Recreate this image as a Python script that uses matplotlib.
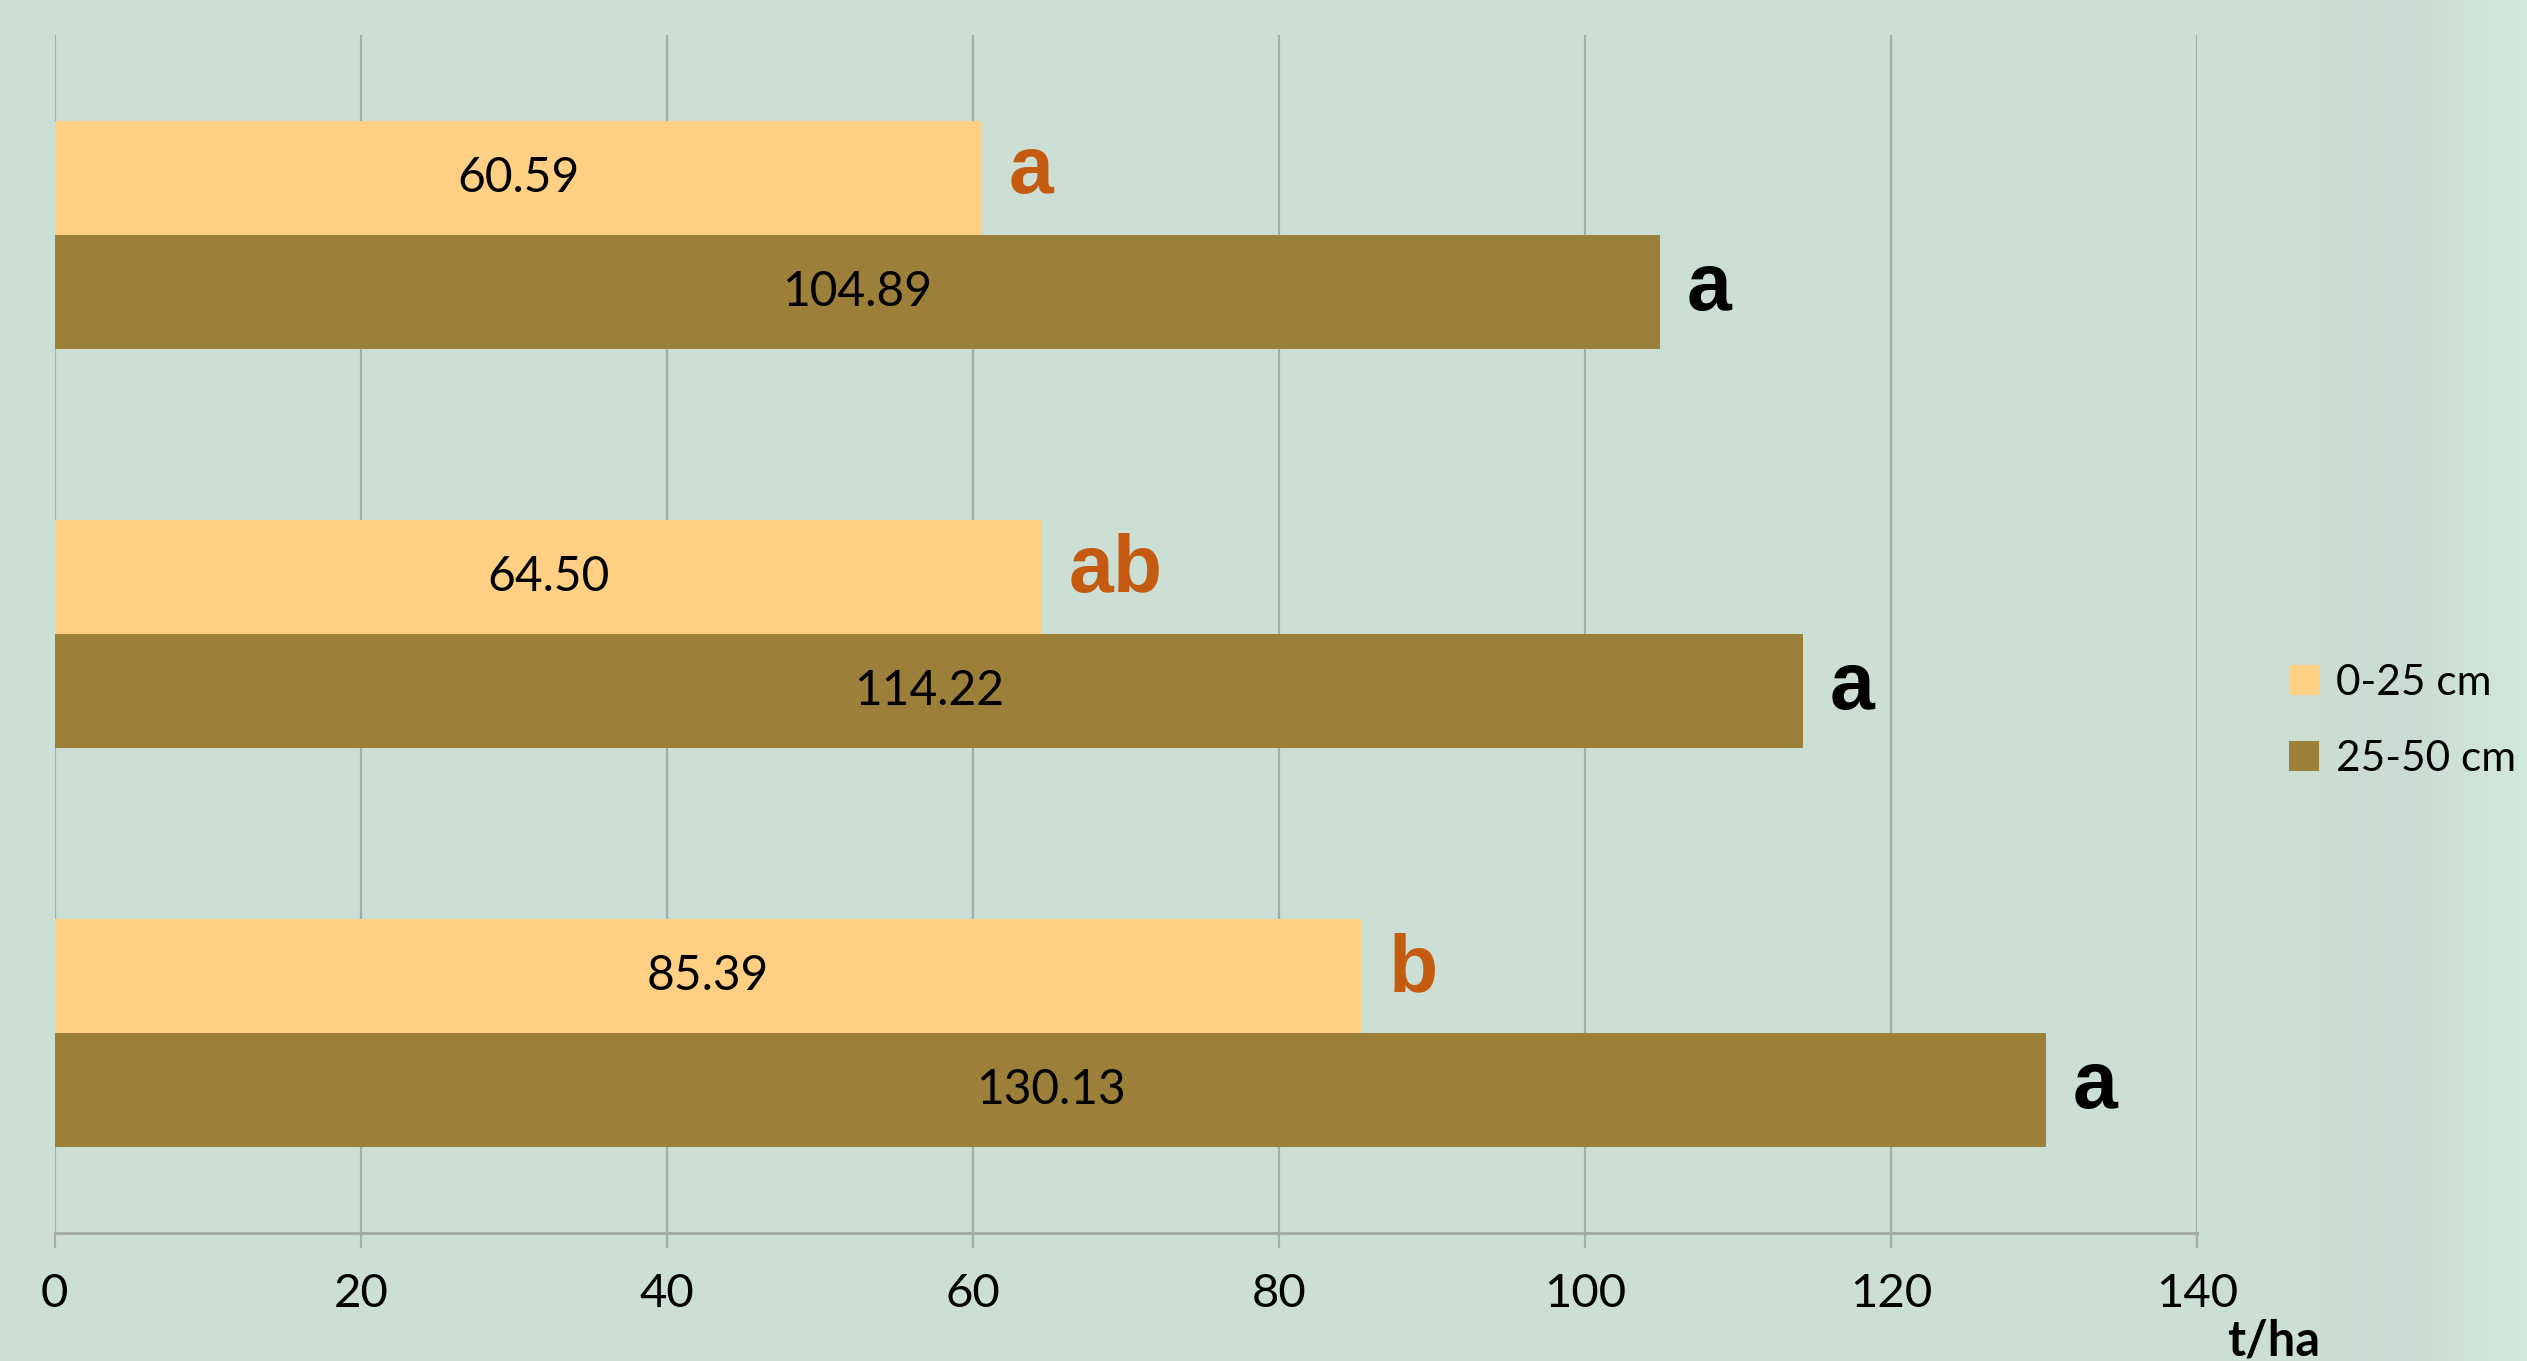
import matplotlib
matplotlib.use("Agg")
import matplotlib.pyplot as plt
import numpy as np
from matplotlib.colors import LinearSegmentedColormap
from matplotlib.patches import Patch

# ---- data (top group first) ----
series_names = ["0-25 cm", "25-50 cm"]
vals_0_25 = [60.59, 64.50, 85.39]
vals_25_50 = [104.89, 114.22, 130.13]
labels_0_25 = ["60.59", "64.50", "85.39"]
labels_25_50 = ["104.89", "114.22", "130.13"]
letters_0_25 = ["a", "ab", "b"]
letters_25_50 = ["a", "a", "a"]
xticks = [0, 20, 40, 60, 80, 100, 120, 140]
x_unit = "t/ha"

W, H = 2527, 1361
fig = plt.figure(figsize=(W / 100, H / 100), dpi=100)
bg = "#CBDFD5"
fig.patch.set_facecolor(bg)

# subtle background gradient on the right edge
bgax = fig.add_axes([0, 0, 1, 1], zorder=-10)
cmap = LinearSegmentedColormap.from_list(
    "bgc", [(0.0, "#CBDFD5"), (0.91, "#CBDFD5"), (0.955, "#C9DBD2"), (0.975, "#CEE2D8"), (1.0, "#D0E8DC")])
grad = np.linspace(0, 1, 512).reshape(1, -1)
bgax.imshow(grad, aspect="auto", cmap=cmap, extent=[0, 1, 0, 1])
bgax.axis("off")

ax = fig.add_axes([54.8 / W, 1 - 1233 / H, (2197 - 54.8) / W, (1233 - 35) / H])
ax.set_facecolor("none")

light = "#FFD084"
dark = "#9C7F39"
orange = "#C55A11"

n = len(vals_0_25)
y = np.arange(n)
bh = 1 / 1.75 / 2

ax.barh(y - bh / 2, vals_0_25, height=bh, color=light, zorder=3)
ax.barh(y + bh / 2, vals_25_50, height=bh, color=dark, zorder=3)

lab_font = dict(family=["Lato", "DejaVu Sans"], fontsize=34.5)
for i in range(n):
    ax.text(vals_0_25[i] / 2, y[i] - bh / 2, labels_0_25[i], ha="center", va="center",
            color="black", zorder=4, **lab_font)
    ax.text(vals_25_50[i] / 2, y[i] + bh / 2, labels_25_50[i], ha="center", va="center",
            color="black", zorder=4, **lab_font)
    ax.annotate(letters_0_25[i], (vals_0_25[i], y[i] - bh / 2), xytext=(27, 6),
                textcoords="offset pixels", ha="left", va="center", color=orange,
                fontsize=58, fontweight="bold", family=["Liberation Sans", "DejaVu Sans"], zorder=4)
    ax.annotate(letters_25_50[i], (vals_25_50[i], y[i] + bh / 2), xytext=(27, 3),
                textcoords="offset pixels", ha="left", va="center", color="black",
                fontsize=58, fontweight="bold", family=["Liberation Sans", "DejaVu Sans"], zorder=4)

ax.set_xlim(0, 140)
ax.set_ylim(n - 0.5, -0.5)
ax.set_xticks(xticks)
ax.set_xticklabels([str(t) for t in xticks], family=["Lato", "DejaVu Sans"], fontsize=34)
ax.set_yticks([])
ax.grid(axis="x", color="#A3ACA7", linewidth=1.6, zorder=0)
ax.tick_params(axis="x", length=11, width=1.6, color="#A3ACA7", pad=18)
for s in ["top", "right", "left"]:
    ax.spines[s].set_visible(False)
ax.spines["bottom"].set_color("#A3ACA7")
ax.spines["bottom"].set_linewidth(2.2)

handles = [Patch(facecolor=light, edgecolor="none"), Patch(facecolor=dark, edgecolor="none")]
fig.legend(handles, series_names, loc="center left", bbox_to_anchor=(2289 / W, 1 - 721 / H),
           frameon=False, prop=dict(family=["Lato", "DejaVu Sans"], size=30.5),
           handlelength=0.7, handleheight=0.7, handletextpad=0.42, labelspacing=0.9,
           borderaxespad=0, borderpad=0)

fig.text(2274 / W, 1 - 1318 / H, x_unit, ha="center", va="top", fontsize=35,
         fontweight="bold", family=["Lato", "DejaVu Sans"])

fig.savefig("out.png", dpi=100, facecolor=fig.get_facecolor())
